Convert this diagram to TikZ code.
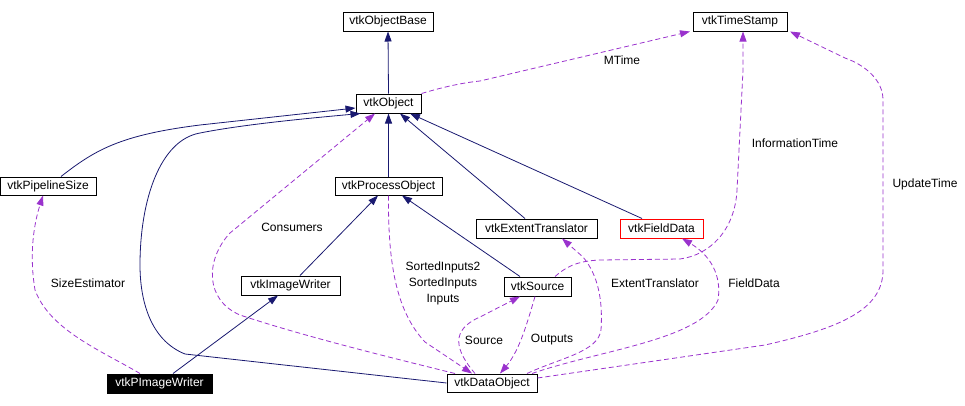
\documentclass[tikz,border=0pt]{standalone}
\usepackage{fontspec}
\setmainfont{Liberation Sans}
\usetikzlibrary{arrows.meta}
\definecolor{inhblue}{HTML}{191970}
\definecolor{usepurple}{HTML}{9A32CD}
\begin{document}
\begin{tikzpicture}[x=1pt,y=-1pt,
  every node/.style={font=\fontsize{12}{16}\selectfont},
  cls/.style={draw=black,line width=1pt,fill=white,inner sep=0pt,minimum height=19pt},
  inh/.style={draw=inhblue,line width=0.8pt,-{Triangle[length=10pt,width=7pt]}},
  use/.style={draw=usepurple,line width=0.8pt,dash pattern=on 5pt off 3pt,-{Triangle[length=10pt,width=7pt]}},
  lbl/.style={inner sep=0pt,align=center}]
\useasboundingbox (0,0) rectangle (965,405);
% nodes
\node[cls,minimum width=90pt] (OB) at (388,21.5) {vtkObjectBase};
\node[cls,minimum width=94pt] (TS) at (740,21.5) {vtkTimeStamp};
\node[cls,minimum width=65pt] (O) at (388.5,103.5) {vtkObject};
\node[cls,minimum width=96pt,minimum height=18pt] (PS) at (48,186) {vtkPipelineSize};
\node[cls,minimum width=107pt,minimum height=18pt] (PO) at (388.5,186) {vtkProcessObject};
\node[cls,minimum width=121pt] (ET) at (536.5,228.5) {vtkExtentTranslator};
\node[cls,draw=red,minimum width=83pt] (FD) at (661.5,228.5) {vtkFieldData};
\node[cls,minimum width=99pt] (IW) at (290.5,285.5) {vtkImageWriter};
\node[cls,minimum width=67pt] (S) at (537.5,286.5) {vtkSource};
\node[cls,fill=black,text=white,minimum width=105pt] (PIW) at (159.5,383.5) {vtkPImageWriter};
\node[cls,minimum width=90pt,minimum height=18pt] (DO) at (492,383) {vtkDataObject};
% inheritance
\draw[inh] (O.north) -- (OB.south);
\draw[inh] ([xshift=13pt]PS.north) .. controls (95,150) and (120,135) .. (200,125) -- ([yshift=-4.5pt]O.west);
\draw[inh] (DO.west) -- (185,354) .. controls (150,340) and (140,300) .. (140,265)
   .. controls (140,200) and (160,140) .. (200,133) .. controls (240,125) and (300,119) .. ([xshift=-28pt]O.south);
\draw[inh] (PO.north) -- (O.south);
\draw[inh] ([xshift=-11.5pt]ET.north) -- ([xshift=11.5pt]O.south);
\draw[inh] ([xshift=-19.5pt]FD.north) -- ([xshift=21.5pt]O.south);
\draw[inh] ([xshift=9.5pt]IW.north) -- ([xshift=-10.5pt]PO.south);
\draw[inh] ([xshift=-17.5pt]S.north) -- ([xshift=13.5pt]PO.south);
\draw[inh] ([xshift=13.5pt]PIW.north) -- ([xshift=-12.5pt]IW.south);
% usage
\draw[use] (O.north east) .. controls (440,88) and (460,83) .. (480,81) -- ([xshift=-50pt]TS.south);
\draw[use] ([xshift=17.5pt]S.north) .. controls (565,268) and (575,261) .. (600,260) -- (680,259)
   .. controls (710,255) and (735,230) .. (737,190) -- (743,70) -- ([xshift=3pt]TS.south);
\draw[use] ([yshift=5pt]DO.east) -- (765,345) .. controls (840,328) and (883,310) .. (883,270) -- (883,100)
   .. controls (883,80) and (865,65) .. (845,58) -- ([xshift=50pt]TS.south);
\draw[use] ([xshift=-37pt]DO.north) .. controls (380,355) and (300,335) .. (240,315)
   .. controls (205,300) and (205,260) .. (230,233) -- ([xshift=-13.5pt]O.south);
\draw[use] (PO.south) .. controls (388,260) and (395,310) .. (425,342) -- ([xshift=-20pt]DO.north);
\draw[use] ([xshift=-2.5pt]S.south) .. controls (528,320) and (520,350) .. ([xshift=8pt]DO.north);
\draw[use] ([xshift=-17pt]DO.north) .. controls (455,350) and (450,330) .. (480,317) -- ([xshift=-17.5pt]S.south);
\draw[use] ([xshift=35pt]DO.north) .. controls (560,358) and (598,352) .. (601,330)
   .. controls (603,300) and (598,275) .. (583,257) -- ([xshift=25.5pt]ET.south);
\draw[use] ([xshift=40pt]DO.north) .. controls (600,350) and (700,340) .. (718,300)
   .. controls (722,275) and (710,255) .. ([xshift=20.5pt]FD.south);
\draw[use] ([xshift=-19.5pt]PIW.north) .. controls (100,350) and (50,330) .. (35,290)
   .. controls (30,260) and (32,230) .. ([xshift=-5pt]PS.south);
% labels
\node[lbl] (lMT) at (622,60) {MTime};
\node[lbl] (lIT) at (795,143) {InformationTime};
\node[lbl] (lUT) at (925,184) {UpdateTime};
\node[lbl] (lCO) at (292,227) {Consumers};
\node[lbl] (lSI) at (443,283) {SortedInputs2\\SortedInputs\\Inputs};
\node[lbl] (lSO) at (484,340) {Source};
\node[lbl] (lOU) at (552,340) {Outputs};
\node[lbl] (lET) at (655,283) {ExtentTranslator};
\node[lbl] (lFD) at (754,283) {FieldData};
\node[lbl] (lSE) at (88,283) {SizeEstimator};
\end{tikzpicture}
\end{document}
